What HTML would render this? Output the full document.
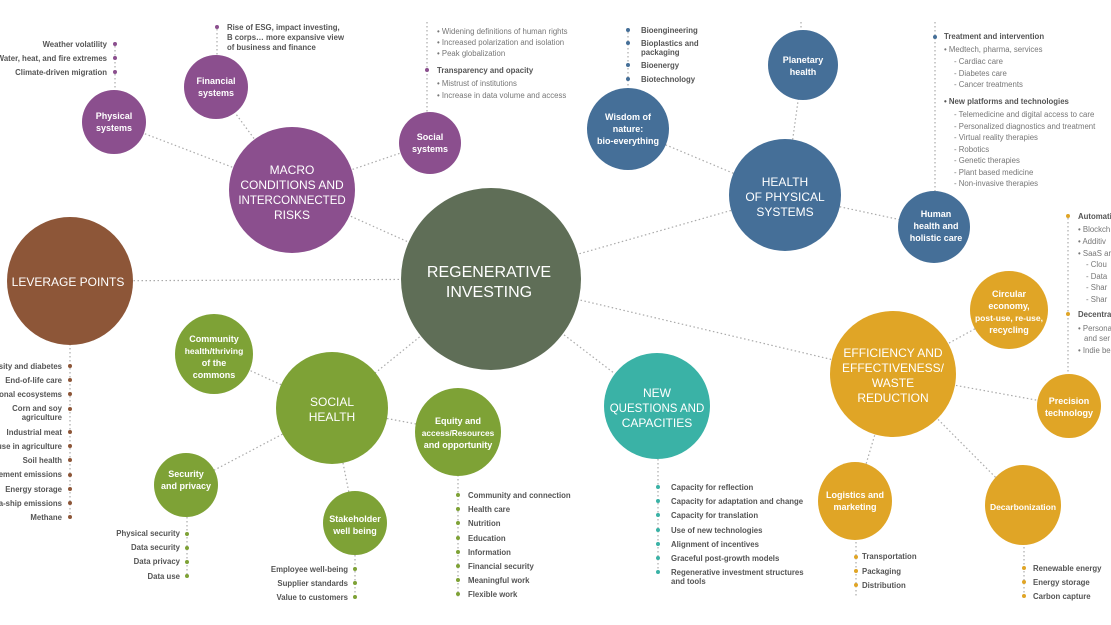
<!DOCTYPE html>
<html><head><meta charset="utf-8"><style>
html,body{margin:0;padding:0;background:#fff;width:1111px;height:625px;overflow:hidden}
svg{display:block;font-family:"Liberation Sans",sans-serif}
.w{fill:#fff;font-weight:bold;text-anchor:middle}
.t{fill:#fff;text-anchor:middle}
.l{fill:#555;font-size:7.8px;font-weight:bold}
.g{fill:#777;font-size:7.8px}
.r{text-anchor:end}
.c{stroke:#aaa;stroke-width:1.2;stroke-dasharray:1.5 2.5;fill:none}
</style></head><body>
<svg width="1111" height="625" viewBox="0 0 1111 625">
<g class="c">
<line x1="491" y1="279" x2="292" y2="190"/><line x1="491" y1="279" x2="70" y2="281"/>
<line x1="491" y1="279" x2="785" y2="195"/><line x1="491" y1="279" x2="893" y2="374"/>
<line x1="491" y1="279" x2="657" y2="406"/><line x1="491" y1="279" x2="332" y2="408"/>
<line x1="292" y1="190" x2="114" y2="122"/><line x1="292" y1="190" x2="216" y2="87"/><line x1="292" y1="190" x2="430" y2="143"/>
<line x1="785" y1="195" x2="628" y2="129"/><line x1="785" y1="195" x2="803" y2="65"/><line x1="785" y1="195" x2="934" y2="227"/>
<line x1="893" y1="374" x2="1009" y2="310"/><line x1="893" y1="374" x2="1069" y2="406"/><line x1="893" y1="374" x2="855" y2="501"/><line x1="893" y1="374" x2="1023" y2="505"/>
<line x1="332" y1="408" x2="214" y2="354"/><line x1="332" y1="408" x2="186" y2="485"/><line x1="332" y1="408" x2="355" y2="523"/><line x1="332" y1="408" x2="458" y2="432"/>
<line x1="115" y1="42" x2="115" y2="90"/><line x1="217" y1="25" x2="217" y2="55"/>
<line x1="427" y1="22" x2="427" y2="112"/><line x1="628" y1="28" x2="628" y2="88"/>
<line x1="801" y1="22" x2="801" y2="30"/>
<line x1="935" y1="22" x2="935" y2="191"/><line x1="1068" y1="214" x2="1068" y2="374"/>
<line x1="70" y1="344" x2="70" y2="518"/><line x1="187" y1="517" x2="187" y2="577"/>
<line x1="355" y1="555" x2="355" y2="598"/><line x1="458" y1="475" x2="458" y2="598"/>
<line x1="658" y1="459" x2="658" y2="575"/><line x1="856" y1="538" x2="856" y2="598"/>
<line x1="1024" y1="543" x2="1024" y2="598"/>
</g>
<g fill="#8b4f8e"><circle cx="292" cy="190" r="63"/><circle cx="114" cy="122" r="32"/><circle cx="216" cy="87" r="32"/><circle cx="430" cy="143" r="31"/></g>
<ellipse cx="70" cy="281" rx="63" ry="64" fill="#8d5638"/>
<ellipse cx="491" cy="279" rx="90" ry="91" fill="#5f6e57"/>
<g fill="#456f98"><circle cx="628" cy="129" r="41"/><circle cx="803" cy="65" r="35"/><circle cx="785" cy="195" r="56"/><circle cx="934" cy="227" r="36"/></g>
<g fill="#e0a526"><circle cx="1009" cy="310" r="39"/><circle cx="893" cy="374" r="63"/><circle cx="1069" cy="406" r="32"/><ellipse cx="855" cy="501" rx="37" ry="39"/><ellipse cx="1023" cy="505" rx="38" ry="40"/></g>
<circle cx="657" cy="406" r="53" fill="#3ab2a6"/>
<g fill="#7ea236"><circle cx="332" cy="408" r="56"/><ellipse cx="214" cy="354" rx="39" ry="40"/><circle cx="186" cy="485" r="32"/><circle cx="355" cy="523" r="32"/><ellipse cx="458" cy="432" rx="43" ry="44"/></g>
<g class="t" font-size="12">
<text x="292" y="174">MACRO</text><text x="292" y="189">CONDITIONS AND</text><text x="292" y="204" font-size="11.5">INTERCONNECTED</text><text x="292" y="219">RISKS</text>
<text x="68" y="286">LEVERAGE POINTS</text>
<text x="785" y="186">HEALTH</text><text x="785" y="201">OF PHYSICAL</text><text x="785" y="216">SYSTEMS</text>
<text x="893" y="357">EFFICIENCY AND</text><text x="893" y="372">EFFECTIVENESS/</text><text x="893" y="387">WASTE</text><text x="893" y="402">REDUCTION</text>
<text x="657" y="397">NEW</text><text x="657" y="412" font-size="11.5">QUESTIONS AND</text><text x="657" y="427">CAPACITIES</text>
<text x="332" y="406">SOCIAL</text><text x="332" y="421">HEALTH</text>
</g>
<g class="t" font-size="16"><text x="489" y="277">REGENERATIVE</text><text x="489" y="297">INVESTING</text></g>
<g class="w" font-size="9">
<text x="114" y="119">Physical</text><text x="114" y="131">systems</text>
<text x="216" y="84">Financial</text><text x="216" y="96">systems</text>
<text x="430" y="140">Social</text><text x="430" y="152">systems</text>
<text x="628" y="120">Wisdom of</text><text x="628" y="132">nature:</text><text x="628" y="144">bio-everything</text>
<text x="803" y="63">Planetary</text><text x="803" y="75">health</text>
<text x="936" y="217">Human</text><text x="936" y="229">health and</text><text x="936" y="241">holistic care</text>
<text x="1009" y="297">Circular</text><text x="1009" y="309">economy,</text><text x="1009" y="321" font-size="8.5">post-use, re-use,</text><text x="1009" y="333">recycling</text>
<text x="1069" y="404">Precision</text><text x="1069" y="416">technology</text>
<text x="855" y="498">Logistics and</text><text x="855" y="510">marketing</text>
<text x="1023" y="510" font-size="8.5">Decarbonization</text>
<text x="214" y="342">Community</text><text x="214" y="354" font-size="8.5">health/thriving</text><text x="214" y="366">of the</text><text x="214" y="378">commons</text>
<text x="186" y="477">Security</text><text x="186" y="489">and privacy</text>
<text x="355" y="522">Stakeholder</text><text x="355" y="534">well being</text>
<text x="458" y="424">Equity and</text><text x="458" y="436" font-size="8.3">access/Resources</text><text x="458" y="448">and opportunity</text>
</g>
<g fill="#8b4f8e"><circle cx="115" cy="44" r="2"/><circle cx="115" cy="58" r="2"/><circle cx="115" cy="72" r="2"/><circle cx="217" cy="27" r="2"/><circle cx="427" cy="70" r="2"/></g>
<g fill="#456f98"><circle cx="628" cy="30" r="2"/><circle cx="628" cy="43" r="2"/><circle cx="628" cy="65" r="2"/><circle cx="628" cy="79" r="2"/><circle cx="935" cy="37" r="2"/></g>
<g fill="#e0a526"><circle cx="1068" cy="216" r="2"/><circle cx="1068" cy="314" r="2"/><circle cx="856" cy="557" r="2"/><circle cx="856" cy="571" r="2"/><circle cx="856" cy="585" r="2"/><circle cx="1024" cy="568" r="2"/><circle cx="1024" cy="582" r="2"/><circle cx="1024" cy="596" r="2"/></g>
<g fill="#8d5638"><circle cx="70" cy="366" r="2"/><circle cx="70" cy="380" r="2"/><circle cx="70" cy="394" r="2"/><circle cx="70" cy="409" r="2"/><circle cx="70" cy="432" r="2"/><circle cx="70" cy="446" r="2"/><circle cx="70" cy="460" r="2"/><circle cx="70" cy="475" r="2"/><circle cx="70" cy="489" r="2"/><circle cx="70" cy="503" r="2"/><circle cx="70" cy="517" r="2"/></g>
<g fill="#7ea236"><circle cx="187" cy="534" r="2"/><circle cx="187" cy="548" r="2"/><circle cx="187" cy="562" r="2"/><circle cx="187" cy="576" r="2"/><circle cx="355" cy="569" r="2"/><circle cx="355" cy="583" r="2"/><circle cx="355" cy="597" r="2"/>
<circle cx="458" cy="495" r="2"/><circle cx="458" cy="509" r="2"/><circle cx="458" cy="523" r="2"/><circle cx="458" cy="538" r="2"/><circle cx="458" cy="552" r="2"/><circle cx="458" cy="566" r="2"/><circle cx="458" cy="580" r="2"/><circle cx="458" cy="594" r="2"/></g>
<g fill="#3ab2a6"><circle cx="658" cy="487" r="2"/><circle cx="658" cy="501" r="2"/><circle cx="658" cy="515" r="2"/><circle cx="658" cy="530" r="2"/><circle cx="658" cy="544" r="2"/><circle cx="658" cy="558" r="2"/><circle cx="658" cy="572" r="2"/></g>
<g class="l r">
<text x="107" y="47">Weather volatility</text><text x="107" y="61">Water, heat, and fire extremes</text><text x="107" y="75">Climate-driven migration</text>
<text x="62" y="369">esity and diabetes</text><text x="62" y="383">End-of-life care</text><text x="62" y="397">jional ecosystems</text><text x="62" y="411">Corn and soy</text><text x="62" y="420">agriculture</text><text x="62" y="435">Industrial meat</text><text x="62" y="449">use in agriculture</text><text x="62" y="463">Soil health</text><text x="62" y="477">Cement emissions</text><text x="62" y="492">Energy storage</text><text x="62" y="506">ga-ship emissions</text><text x="62" y="520">Methane</text>
<text x="180" y="536">Physical security</text><text x="180" y="550">Data security</text><text x="180" y="564">Data privacy</text><text x="180" y="579">Data use</text>
<text x="348" y="572">Employee well-being</text><text x="348" y="586">Supplier standards</text><text x="348" y="600">Value to customers</text>
</g>
<g class="l">
<text x="227" y="30">Rise of ESG, impact investing,</text><text x="227" y="40">B corps… more expansive view</text><text x="227" y="50">of business and finance</text>
<text x="437" y="73">Transparency and opacity</text>
<text x="641" y="33">Bioengineering</text><text x="641" y="46">Bioplastics and</text><text x="641" y="55">packaging</text><text x="641" y="68">Bioenergy</text><text x="641" y="82">Biotechnology</text>
<text x="944" y="39">Treatment and intervention</text><text x="944" y="104">• New platforms and technologies</text>
<text x="1078" y="219">Automati</text><text x="1078" y="317">Decentra</text>
<text x="468" y="498">Community and connection</text><text x="468" y="512">Health care</text><text x="468" y="526">Nutrition</text><text x="468" y="541">Education</text><text x="468" y="555">Information</text><text x="468" y="569">Financial security</text><text x="468" y="583">Meaningful work</text><text x="468" y="597">Flexible work</text>
<text x="671" y="490">Capacity for reflection</text><text x="671" y="504">Capacity for adaptation and change</text><text x="671" y="518">Capacity for translation</text><text x="671" y="533">Use of new technologies</text><text x="671" y="547">Alignment of incentives</text><text x="671" y="561">Graceful post-growth models</text><text x="671" y="575">Regenerative investment structures</text><text x="671" y="584">and tools</text>
<text x="862" y="559">Transportation</text><text x="862" y="574">Packaging</text><text x="862" y="588">Distribution</text>
<text x="1033" y="571">Renewable energy</text><text x="1033" y="585">Energy storage</text><text x="1033" y="599">Carbon capture</text>
</g>
<g class="g">
<text x="437" y="34">• Widening definitions of human rights</text><text x="437" y="45">• Increased polarization and isolation</text><text x="437" y="56">• Peak globalization</text>
<text x="437" y="86">• Mistrust of institutions</text><text x="437" y="98">• Increase in data volume and access</text>
<text x="944" y="52">• Medtech, pharma, services</text><text x="954" y="64">-  Cardiac care</text><text x="954" y="76">-  Diabetes care</text><text x="954" y="87">-  Cancer treatments</text>
<text x="954" y="117">-  Telemedicine and digital access to care</text><text x="954" y="129">-  Personalized diagnostics and treatment</text><text x="954" y="140">-  Virtual reality therapies</text><text x="954" y="152">-  Robotics</text><text x="954" y="163">-  Genetic therapies</text><text x="954" y="175">-  Plant based medicine</text><text x="954" y="186">-  Non-invasive therapies</text>
<text x="1078" y="232">• Blockch</text><text x="1078" y="244">• Additiv</text><text x="1078" y="256">• SaaS ar</text><text x="1086" y="267">-  Clou</text><text x="1086" y="279">-  Data</text><text x="1086" y="290">-  Shar</text><text x="1086" y="302">-  Shar</text>
<text x="1078" y="331">• Persona</text><text x="1084" y="341">and ser</text><text x="1078" y="353">• Indie be</text>
</g>
</svg>
</body></html>
